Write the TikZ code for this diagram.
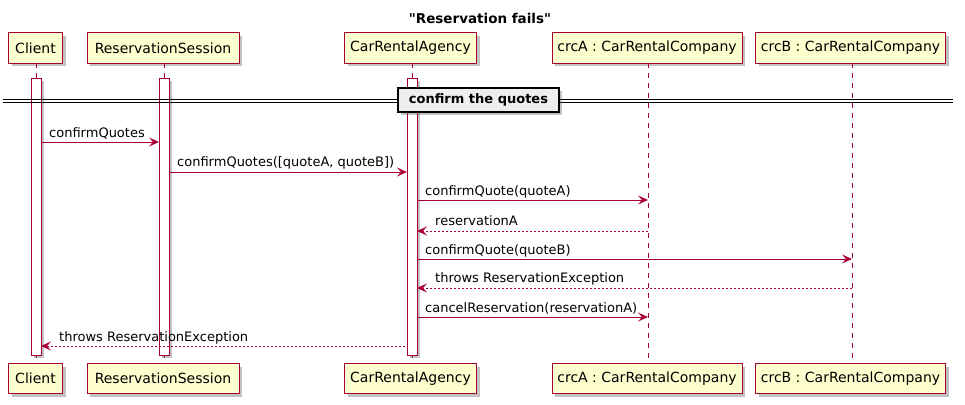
\documentclass[tikz,border=0pt]{standalone}
\usepackage{fontspec}
\setmainfont{DejaVu Sans}
\newfontfamily\titlefont{DejaVu Sans}[Ligatures=TeXOff]
\usetikzlibrary{arrows.meta,shadows}
\definecolor{umlred}{HTML}{A80036}
\definecolor{umlfill}{HTML}{FEFECE}
\definecolor{sepfill}{HTML}{EEEEEE}
\tikzset{
  shad/.style={drop shadow={shadow xshift=3pt,shadow yshift=-3pt,opacity=0.4,fill=black!60}},
  part/.style={draw=umlred,fill=umlfill,line width=1pt,minimum height=30pt,inner sep=0pt,shad,
    font=\fontsize{14}{16}\selectfont},
  lifeline/.style={draw=umlred,line width=0.8pt,dash pattern=on 5pt off 5pt},
  actbar/.style={draw=umlred,fill=white,line width=1pt,shad},
  msg/.style={draw=umlred,line width=0.9pt,-{Stealth[length=10pt,width=9pt,inset=4pt]}},
  ret/.style={msg,dash pattern=on 2pt off 2pt},
  lbl/.style={anchor=base west,inner sep=0pt,font=\fontsize{13}{15}\selectfont},
  seplabel/.style={draw=black,fill=sepfill,line width=1.6pt,minimum width=161pt,minimum height=24pt,
    inner sep=0pt,shad,font=\bfseries\fontsize{13}{15}\selectfont},
}
\begin{document}
\begin{tikzpicture}[x=1pt,y=-1pt]
\useasboundingbox (0,0) rectangle (965,404);
% title
\node[font=\titlefont\bfseries\fontsize{13.5}{15}\selectfont] (title) at (480,18) {"Reservation fails"};
% participants top
\node[part,minimum width=54pt] (cT) at (35.5,48) {Client};
\node[part,minimum width=152pt] (rT) at (163,48) {ReservationSession};
\node[part,minimum width=132pt] (aT) at (410.5,48) {CarRentalAgency};
\node[part,minimum width=190pt] (pT) at (647,48) {crcA : CarRentalCompany};
\node[part,minimum width=190pt] (qT) at (850.5,48) {crcB : CarRentalCompany};
% participants bottom
\node[part,minimum width=54pt] (cB) at (35.5,378.5) {Client};
\node[part,minimum width=152pt] (rB) at (163,378.5) {ReservationSession};
\node[part,minimum width=132pt] (aB) at (410.5,378.5) {CarRentalAgency};
\node[part,minimum width=190pt] (pB) at (647,378.5) {crcA : CarRentalCompany};
\node[part,minimum width=190pt] (qB) at (850.5,378.5) {crcB : CarRentalCompany};
% lifelines
\draw[lifeline] (36,63) -- (36,363);
\draw[lifeline] (164,63) -- (164,363);
\draw[lifeline] (412,63) -- (412,363);
\draw[lifeline] (648,63) -- (648,363);
\draw[lifeline] (852,63) -- (852,363);
% activation bars
\path[actbar] (31,78) rectangle (41,355);
\path[actbar] (159,78) rectangle (169,355);
\path[actbar] (407,78) rectangle (417,355);
% separator
\draw[black,line width=0.9pt] (3,99) -- (953,99);
\draw[black,line width=0.9pt] (3,102.5) -- (953,102.5);
\node[seplabel] (sep) at (478.5,100) {confirm the quotes};
% message coordinates
\coordinate (m1a) at (41,142);  \coordinate (m1b) at (159,142);
\coordinate (m2a) at (169,172); \coordinate (m2b) at (407,172);
\coordinate (m3a) at (417,200); \coordinate (m3b) at (648,200);
\coordinate (m4a) at (648,231); \coordinate (m4b) at (417,231);
\coordinate (m5a) at (417,259); \coordinate (m5b) at (852,259);
\coordinate (m6a) at (852,288); \coordinate (m6b) at (417,288);
\coordinate (m7a) at (417,317); \coordinate (m7b) at (648,317);
\coordinate (m8a) at (405,346); \coordinate (m8b) at (41,346);
% messages
\draw[msg] (m1a) -- (m1b);
\draw[msg] (m2a) -- (m2b);
\draw[msg] (m3a) -- (m3b);
\draw[ret] (m4a) -- (m4b);
\draw[msg] (m5a) -- (m5b);
\draw[ret] (m6a) -- (m6b);
\draw[msg] (m7a) -- (m7b);
\draw[ret] (m8a) -- (m8b);
% labels
\node[lbl] (l1) at (49,137) {confirmQuotes};
\node[lbl] (l2) at (177,166) {confirmQuotes([quoteA, quoteB])};
\node[lbl] (l3) at (425,195) {confirmQuote(quoteA)};
\node[lbl] (l4) at (435,225) {reservationA};
\node[lbl] (l5) at (425,254) {confirmQuote(quoteB)};
\node[lbl] (l6) at (435,282) {throws ReservationException};
\node[lbl] (l7) at (425,312) {cancelReservation(reservationA)};
\node[lbl] (l8) at (59,341) {throws ReservationException};
\end{tikzpicture}
\end{document}
